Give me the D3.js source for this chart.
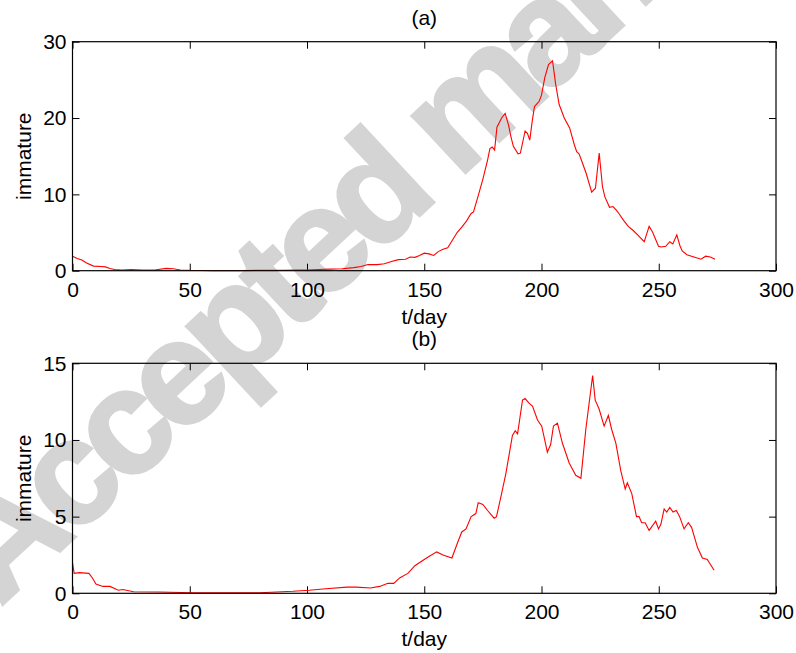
<!DOCTYPE html>
<html>
  <head>
    <title>immature</title>
    <script type="text/javascript" src="https://d3js.org/d3.v7.min.js"></script>
    <style>
      body { margin: 0; background: white; }
      text { font-family: "Liberation Sans", Arial, sans-serif; }
      .tick text { font-size: 21px; fill: black; }
      .tick line { stroke: black; }
    </style>
  </head>

  <body>
    <svg width="796" height="653" class="chart"></svg>

    <script type="text/javascript">
      // panel (a)
      var dayA = [0, 2, 4, 6, 9, 12, 14, 16, 18, 21, 25, 30, 35, 40, 43, 46, 50, 60, 70, 80, 90, 95,
        100, 105, 110, 115, 120, 123, 126, 130, 133, 136, 139, 142, 144, 146, 148, 150, 152, 154,
        156, 158, 160, 162, 164, 166, 168, 170, 171, 173, 175, 177, 178, 179, 180, 181, 183, 184.5,
        186, 187, 188, 190, 191, 193, 194, 195, 196, 197, 199, 200, 201.4, 203, 204.7, 206, 207.5,
        209.7, 212, 214, 215, 216, 217, 219, 221.4, 223, 224.6, 226, 227, 229, 230.5, 232, 233,
        235, 237, 239, 241, 243.8, 245.9, 247.3, 249.9, 251, 253, 254.7, 256, 257.7, 259, 260,
        262, 265, 268, 270, 272, 274];
      var immatureA = [1.9, 1.6, 1.4, 1.0, 0.6, 0.55, 0.5, 0.3, 0.15, 0.1, 0.15, 0.1, 0.1, 0.3, 0.25,
        0.1, 0.05, 0, 0, 0.05, 0.05, 0.1, 0.1, 0.15, 0.2, 0.25, 0.4, 0.55, 0.8, 0.8, 0.9, 1.2, 1.45,
        1.5, 1.8, 1.75, 2.0, 2.3, 2.2, 2.0, 2.5, 2.8, 3.0, 4.0, 5.0, 5.7, 6.5, 7.5, 7.7, 9.8, 12.0,
        14.5, 16.0, 16.2, 15.8, 18.8, 20.0, 20.6, 19.0, 17.5, 16.3, 15.3, 15.4, 18.3, 18.0, 17.1,
        19.5, 21.5, 22.2, 23.0, 25.3, 27.0, 27.5, 24.5, 21.8, 20.0, 18.7, 16.5, 15.6, 15.3, 14.5,
        12.8, 10.3, 10.8, 15.4, 11.0, 9.7, 8.3, 8.4, 7.9, 7.5, 6.6, 5.8, 5.3, 4.7, 3.8, 5.8, 5.1,
        3.2, 3.1, 3.2, 3.8, 3.5, 4.7, 3.3, 2.6, 2.1, 1.8, 1.5, 1.9, 1.8, 1.5];

      // panel (b)
      var dayB = [0, 0.7, 3, 7, 8.5, 10, 13, 16, 19.5, 21.5, 26, 37, 51, 80, 94, 101, 108, 117, 121,
        127, 131, 134.5, 137, 139.5, 143, 146, 150, 152, 155.3, 158, 161.8, 164.2, 166, 167.8, 170,
        172, 173, 175, 177, 179.8, 180.8, 182.7, 184.8, 187.6, 188.8, 189.8, 191.9, 193, 194.7,
        196.2, 198.3, 200.1, 202.5, 203.9, 205.1, 206.8, 208.9, 211.8, 214.6, 216.8, 218.9, 221.8,
        222.9, 224.6, 226.7, 228.5, 229.9, 231.7, 233.8, 235.7, 236.6, 238.5, 240.5, 241.6, 242.7,
        244.2, 245.9, 248.7, 249.9, 250.9, 252.3, 253.4, 254.7, 256.1, 257.5, 258.9, 260.8, 262.6,
        264, 266.5, 268.6, 270.7, 273.6];
      var immatureB = [2.0, 1.3, 1.35, 1.3, 1.0, 0.6, 0.45, 0.45, 0.2, 0.25, 0.1, 0.08, 0.04, 0.04,
        0.13, 0.2, 0.3, 0.4, 0.4, 0.35, 0.45, 0.65, 0.65, 1.0, 1.3, 1.8, 2.2, 2.4, 2.7, 2.5, 2.3, 3.3,
        4.0, 4.2, 5.0, 5.2, 5.9, 5.8, 5.4, 4.9, 5.0, 6.3, 7.8, 10.3, 10.6, 10.4, 12.6, 12.7, 12.4,
        12.2, 11.3, 10.9, 9.2, 9.7, 10.9, 11.1, 9.8, 8.5, 7.7, 7.5, 10.7, 14.2, 12.6, 12.0, 10.9,
        11.6, 10.7, 9.8, 8.0, 6.8, 7.2, 6.5, 5.0, 5.0, 4.6, 4.6, 4.1, 4.7, 4.2, 4.5, 5.5, 5.3, 5.6,
        5.3, 5.4, 5.0, 4.2, 4.6, 4.3, 3.0, 2.3, 2.2, 1.5];

      var xTicks = [0, 50, 100, 150, 200, 250, 300];
      var yTicksA = [0, 10, 20, 30];
      var yTicksB = [0, 5, 10, 15];

      var svg = d3.select('svg.chart');

      // watermark, sits under everything else
      svg.append('text')
         .attr('transform', 'translate(0,607) rotate(-43)')
         .style('font-size', '148px')
         .style('font-weight', 'bold')
         .style('letter-spacing', '-9px')
         .attr('fill', '#d4d4d4')
         .attr('stroke', '#d4d4d4')
         .attr('stroke-width', 3)
         .text('Accepted manuscript');

      var left = 72.5, right = 776;

      function panel(days, vals, yMax, yTicks, top, bottom, title) {
        var x = d3.scaleLinear().domain([0, 300]).range([left, right]);
        var y = d3.scaleLinear().domain([0, yMax]).range([bottom, top]);
        var g = svg.append('g');

        g.append('g')
         .attr('transform', 'translate(0,' + bottom + ')')
         .call(d3.axisBottom(x).tickValues(xTicks).tickSize(-7).tickSizeOuter(0).tickPadding(11))
         .call(function(s) { s.select('.domain').remove(); });
        g.append('g')
         .attr('transform', 'translate(0,' + top + ')')
         .call(d3.axisTop(x).tickValues(xTicks).tickSize(-7).tickSizeOuter(0).tickFormat(''))
         .call(function(s) { s.select('.domain').remove(); });
        g.append('g')
         .attr('transform', 'translate(' + left + ',0)')
         .call(d3.axisLeft(y).tickValues(yTicks).tickSize(-7).tickSizeOuter(0).tickPadding(6))
         .call(function(s) { s.select('.domain').remove(); });
        g.append('g')
         .attr('transform', 'translate(' + right + ',0)')
         .call(d3.axisRight(y).tickValues(yTicks).tickSize(-7).tickSizeOuter(0).tickFormat(''))
         .call(function(s) { s.select('.domain').remove(); });

        g.selectAll('.tick text').attr('font-family', null);

        var line = d3.line()
                     .x(function(d) { return x(d[0]); })
                     .y(function(d) { return y(d[1]); });
        g.append('path')
         .datum(days.map(function(d, i) { return [d, vals[i]]; }))
         .attr('d', line)
         .attr('fill', 'none')
         .attr('stroke', '#ff0000')
         .attr('stroke-width', 1.1);

        g.append('rect')
         .attr('x', left).attr('y', top)
         .attr('width', right - left).attr('height', bottom - top)
         .attr('fill', 'none')
         .attr('stroke', 'black')
         .attr('stroke-width', 1.2);

        g.append('text')
         .attr('x', (left + right) / 2).attr('y', top - 17)
         .attr('text-anchor', 'middle')
         .style('font-size', '21px')
         .text(title);
        g.append('text')
         .attr('x', (left + right) / 2).attr('y', bottom + 53)
         .attr('text-anchor', 'middle')
         .style('font-size', '21px')
         .text('t/day');
        g.append('text')
         .attr('transform', 'translate(31,' + (top + bottom) / 2 + ') rotate(-90)')
         .attr('text-anchor', 'middle')
         .style('font-size', '21px')
         .text('immature');
      }

      panel(dayA, immatureA, 30, yTicksA, 41.7, 270.7, '(a)');
      panel(dayB, immatureB, 15, yTicksB, 363.3, 593.3, '(b)');
    </script>
  </body>
</html>
